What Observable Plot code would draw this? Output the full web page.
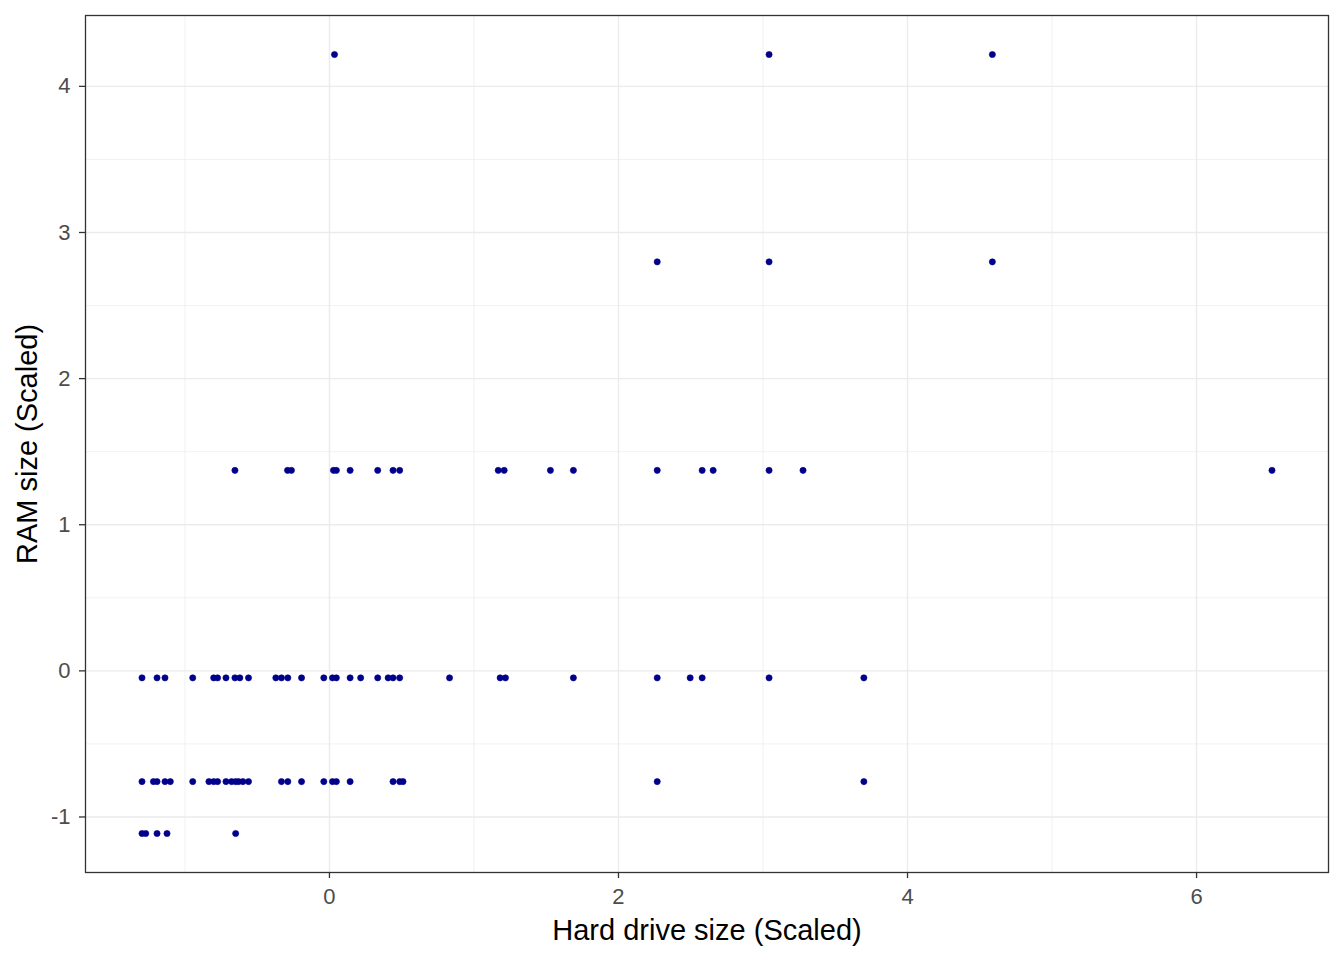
<!DOCTYPE html>
<html>
<head>
<meta charset="utf-8">
<script src="https://cdn.jsdelivr.net/npm/d3@7"></script>
<script src="https://cdn.jsdelivr.net/npm/@observablehq/plot@0.6"></script>
<style>
  html, body { margin: 0; padding: 0; background: #fff; }
  #chart svg { display: block; font-family: "Liberation Sans", Arial, sans-serif; }
</style>
</head>
<body>
<div id="chart"></div>
<script>
// Rows of points: each RAM level (scaled) with its hard-drive values (scaled)
const ramLevels = [4.218, 2.799, 1.372, -0.048, -0.758, -1.113];
const hddRam4_2 = [0.035, 3.042, 4.587];
const hddRam2_8 = [2.268, 3.042, 4.587];
const hddRam1_4 = [-0.654, -0.290, -0.263, 0.028, 0.048, 0.143, 0.334, 0.440, 0.486,
                   1.168, 1.209, 1.529, 1.688, 2.268, 2.579, 2.655, 3.042, 3.277, 6.522];
const hddRam0_0 = [-1.297, -1.193, -1.138, -0.946, -0.801, -0.774, -0.716, -0.654, -0.620,
                   -0.560, -0.371, -0.332, -0.288, -0.193, -0.039, 0.021, 0.048, 0.143,
                   0.216, 0.334, 0.406, 0.440, 0.486, 0.831, 1.181, 1.218, 1.688, 2.268,
                   2.496, 2.579, 3.042, 3.698];
const hddRamM0_8 = [-1.297, -1.218, -1.193, -1.138, -1.101, -0.946, -0.834, -0.801, -0.774,
                    -0.716, -0.677, -0.649, -0.629, -0.599, -0.560, -0.332, -0.288, -0.193,
                    -0.039, 0.021, 0.048, 0.143, 0.440, 0.486, 0.509, 2.268, 3.698];
const hddRamM1_1 = [-1.297, -1.271, -1.193, -1.124, -0.649];

const xTicks = [0, 2, 4, 6];
const xMinor = [-1, 1, 3, 5];
const yTicks = [-1, 0, 1, 2, 3, 4];
const yMinor = [-0.5, 0.5, 1.5, 2.5, 3.5];
const xTitle = "Hard drive size (Scaled)";
const yTitle = "RAM size (Scaled)";

const rows = [hddRam4_2, hddRam2_8, hddRam1_4, hddRam0_0, hddRamM0_8, hddRamM1_1];
const points = rows.flatMap((hs, i) => hs.map(h => ({hdd: h, ram: ramLevels[i]})));

const fmt = d => String(d);

const chart = Plot.plot({
  width: 1344,
  height: 960,
  marginLeft: 85,
  marginRight: 16,
  marginTop: 15,
  marginBottom: 88,
  style: {fontFamily: '"Liberation Sans", Arial, sans-serif', background: "#fff"},
  x: {domain: [-1.688, 6.913], label: null},
  y: {domain: [-1.38, 4.485], label: null},
  marks: [
    Plot.ruleX(xMinor, {stroke: "#ebebeb", strokeWidth: 0.7}),
    Plot.ruleY(yMinor, {stroke: "#ebebeb", strokeWidth: 0.7}),
    Plot.ruleX(xTicks, {stroke: "#ebebeb", strokeWidth: 1.4}),
    Plot.ruleY(yTicks, {stroke: "#ebebeb", strokeWidth: 1.4}),
    Plot.dot(points, {x: "hdd", y: "ram", r: 3.1, fill: "darkblue", stroke: "darkblue", strokeWidth: 0.6}),
    Plot.frame({stroke: "#333333", strokeWidth: 1.3}),
    Plot.axisX(xTicks, {tickSize: 6, stroke: "#333333", strokeWidth: 1.3, text: null, label: null}),
    Plot.axisY(yTicks, {tickSize: 6, stroke: "#333333", strokeWidth: 1.3, text: null, label: null}),
    Plot.text(xTicks, {x: d => d, frameAnchor: "bottom", dy: 31, text: fmt, fontSize: 22, fill: "#4d4d4d", textAnchor: "middle"}),
    Plot.text(yTicks, {y: d => d, frameAnchor: "left", dx: -15, text: fmt, fontSize: 22, fill: "#4d4d4d", textAnchor: "end"}),
    Plot.text([xTitle], {frameAnchor: "bottom", dy: 67, fontSize: 29, fill: "#000", textAnchor: "middle"}),
    Plot.text([yTitle], {frameAnchor: "left", dx: -58, rotate: -90, fontSize: 29, fill: "#000", textAnchor: "middle"})
  ]
});
document.getElementById("chart").appendChild(chart);
</script>
</body>
</html>
